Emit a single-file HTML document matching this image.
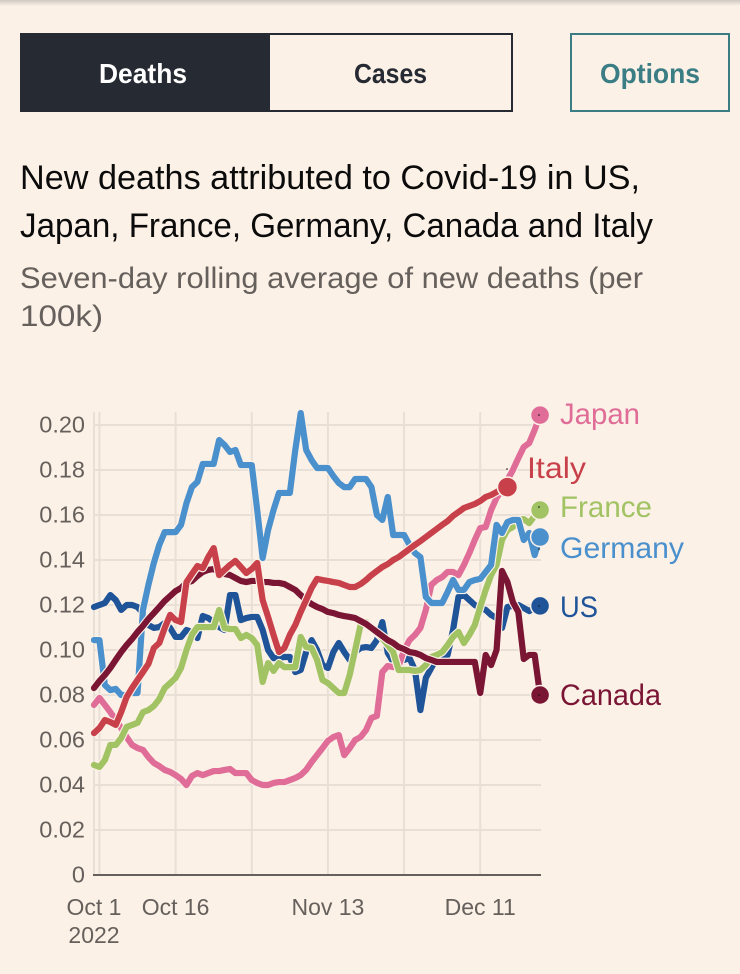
<!DOCTYPE html>
<html lang="en">
<head>
<meta charset="utf-8">
<title>New deaths attributed to Covid-19</title>
<style>
html,body{margin:0;padding:0;background:#fcf1e7;}
svg{display:block;font-family:"Liberation Sans",sans-serif;}
.btn{cursor:pointer;}
</style>
</head>
<body>
<svg id="page" xmlns="http://www.w3.org/2000/svg" width="740" height="974" viewBox="0 0 740 974">
  <defs>
    <linearGradient id="topShadow" x1="0" y1="0" x2="0" y2="1">
      <stop offset="0" stop-color="#cfc8c2"/>
      <stop offset="1" stop-color="#fcf1e7"/>
    </linearGradient>
  </defs>
  <rect x="0" y="0" width="740" height="974" fill="#fcf1e7"/>
  <rect x="0" y="0" width="740" height="6" fill="url(#topShadow)"/>

  <g>
    <g class="btn">
      <rect x="20" y="33" width="249" height="79" fill="#262a33"/>
      <text x="143" y="83" text-anchor="middle" font-size="28" font-weight="700" fill="#ffffff" textLength="88" lengthAdjust="spacingAndGlyphs">Deaths</text>
    </g>
    <g class="btn">
      <rect x="269" y="34" width="243" height="77" fill="none" stroke="#262a33" stroke-width="2"/>
      <text x="390.500" y="83" text-anchor="middle" font-size="28" font-weight="700" fill="#262a33" textLength="73" lengthAdjust="spacingAndGlyphs">Cases</text>
    </g>
  </g>
  <g class="btn">
    <rect x="571" y="34" width="158" height="77" fill="none" stroke="#3b7d85" stroke-width="2"/>
    <text x="650" y="83" text-anchor="middle" font-size="28" font-weight="700" fill="#3b7d85" textLength="100" lengthAdjust="spacingAndGlyphs">Options</text>
  </g>

  <text x="20" y="189" font-size="34" fill="#0b0b0b" textLength="620" lengthAdjust="spacingAndGlyphs">New deaths attributed to Covid-19 in US,</text>
  <text x="20" y="237" font-size="34" fill="#0b0b0b" textLength="633" lengthAdjust="spacingAndGlyphs">Japan, France, Germany, Canada and Italy</text>
  <text x="20" y="288" font-size="30" fill="#66605c" textLength="623" lengthAdjust="spacingAndGlyphs">Seven-day rolling average of new deaths (per</text>
  <text x="20" y="326" font-size="30" fill="#66605c" textLength="83" lengthAdjust="spacingAndGlyphs">100k)</text>

  <g id="grid"></g>
  <g id="yticks"></g>
  <g id="xticks"></g>
  <line x1="93" y1="875" x2="541" y2="875" stroke="#66605c" stroke-width="2"/>
  <g id="series"></g>

  <g>
    <text x="560" y="424" font-size="30" fill="#df6d97" textLength="80" lengthAdjust="spacingAndGlyphs">Japan</text>
    <text x="527" y="478" font-size="30" fill="#c8414a" textLength="59" lengthAdjust="spacingAndGlyphs">Italy</text>
    <text x="560" y="517" font-size="30" fill="#a2c364" textLength="92" lengthAdjust="spacingAndGlyphs">France</text>
    <text x="560" y="558" font-size="30" fill="#4a90cc" textLength="124" lengthAdjust="spacingAndGlyphs">Germany</text>
    <text x="560" y="617" font-size="30" fill="#1f5499" textLength="38" lengthAdjust="spacingAndGlyphs">US</text>
    <text x="560" y="705" font-size="30" fill="#7a1534" textLength="101" lengthAdjust="spacingAndGlyphs">Canada</text>
  </g>
  <g fill="#111111">
    <circle cx="539" cy="415" r="0.8"/>
    <circle cx="507" cy="469" r="0.8"/>
    <circle cx="539" cy="507" r="0.8"/>
    <circle cx="539" cy="549" r="0.8"/>
    <circle cx="539" cy="606" r="0.8"/>
    <circle cx="539" cy="695" r="0.8"/>
  </g>
</svg>
<script>
var usValues = [.1191,.12,.1209,.1244,.1222,.1178,.12,.12,.1191,.1164,.1111,.1098,.1102,.112,.1098,.1058,.1058,.1089,.108,.1053,.1151,.1142,.1124,.1102,.1089,.1244,.1244,.1133,.1142,.1147,.1147,.1089,.1,.0964,.0964,.0969,.0969,.0902,.0911,.0991,.1044,.1,.0933,.092,.0991,.1031,.0991,.0956,.0991,.1009,.1013,.1009,.1044,.1124,.0987,.0947,.0947,.0956,.0964,.0911,.0733,.0876,.092,.0964,.0978,.0978,.1089,.1236,.1244,.1222,.12,.1187,.1178,.1156,.1142,.1098,.1191,.1196,.12,.1187,.1173,.1187,.1196];
var japanValues = [.0756,.0787,.0756,.0724,.0689,.0653,.0613,.0578,.0564,.0556,.0524,.0498,.0484,.0467,.0458,.0444,.0427,.04,.044,.0453,.0444,.0453,.0462,.0462,.0467,.0471,.0453,.0453,.0453,.0422,.0409,.04,.04,.0409,.0413,.0413,.0422,.0431,.0444,.0467,.0502,.0533,.0564,.0596,.0613,.0622,.0533,.0564,.06,.0613,.0644,.0698,.0707,.0902,.0929,.0924,.0929,.1,.1044,.1067,.1098,.1178,.1289,.1311,.1324,.1347,.1347,.1333,.1378,.1431,.1489,.1542,.1547,.1622,.1676,.1711,.1756,.18,.1853,.1902,.192,.1978,.2044];
var franceValues = [.0489,.048,.0511,.0578,.0578,.0609,.0658,.0667,.0676,.0724,.0733,.0751,.0782,.0831,.0853,.0876,.092,.1,.1067,.1102,.1102,.1102,.1102,.1178,.1098,.1093,.1093,.1053,.1067,.1053,.1022,.0858,.0942,.0907,.0942,.0924,.0924,.0924,.1058,.1013,.1009,.0956,.0867,.0853,.0831,.0809,.0809,.0889,.1,.1111,.1124,.1098,.1076,.1053,.1022,.0991,.0911,.0911,.0911,.0907,.0911,.0933,.0969,.0978,.0991,.1022,.1058,.108,.1031,.1067,.1111,.1191,.1267,.1333,.1378,.1489,.1533,.1547,.1578,.1582,.1564,.1596,.1622];
var germanyValues = [.1044,.1044,.0844,.0822,.0827,.08,.08,.0809,.0809,.1178,.1289,.1387,.1467,.1524,.1524,.1524,.1556,.1653,.1724,.1747,.1827,.1827,.1827,.1933,.1911,.188,.1889,.1822,.1822,.1822,.1622,.1409,.1533,.1622,.1698,.1698,.1698,.1889,.2053,.1889,.1844,.1809,.1809,.1809,.1773,.1742,.1724,.1724,.176,.176,.176,.1724,.16,.1578,.168,.1511,.1511,.1511,.1467,.1431,.1413,.1236,.1209,.1209,.1209,.1258,.1311,.1267,.1267,.1302,.1311,.1316,.1347,.1378,.1556,.152,.1569,.1578,.1578,.1489,.152,.1422,.1502];
var canadaValues = [.0831,.0862,.0889,.092,.0956,.0991,.1022,.1049,.108,.1107,.1138,.1164,.1191,.1218,.124,.1262,.1276,.1298,.1307,.1329,.1347,.1356,.136,.1347,.1338,.1333,.132,.1307,.1302,.1307,.1307,.1302,.1302,.1298,.1298,.1293,.128,.1267,.1244,.1222,.1204,.1191,.1182,.1169,.1164,.1156,.1151,.1147,.1142,.1129,.1116,.1098,.108,.1062,.1044,.1031,.1013,.1004,.0991,.0987,.0978,.0964,.0956,.0947,.0947,.0947,.0947,.0947,.0947,.0947,.0947,.0809,.0978,.0933,.1,.1351,.1302,.1213,.1169,.096,.0978,.0978,.08];
var italyValues = [.0631,.0653,.0689,.068,.0667,.0724,.0791,.0831,.0867,.0902,.0938,.1009,.1031,.1098,.1156,.1133,.1124,.1302,.1338,.1373,.1364,.1413,.1453,.1333,.1356,.1378,.1396,.1369,.1342,.136,.1387,.1222,.1147,.1067,.0991,.1009,.1067,.1111,.1169,.1222,.1276,.1316,.1311,.1307,.1302,.1298,.1289,.128,.128,.1293,.1311,.1333,.1351,.1369,.1382,.14,.1413,.1431,.1449,.1467,.1484,.1502,.152,.1538,.1556,.1573,.1596,.1613,.1631,.164,.1649,.1662,.168,.1689,.1702,.1716,.1724];

var yTickValues = [0, 0.02, 0.04, 0.06, 0.08, 0.10, 0.12, 0.14, 0.16, 0.18, 0.20];
var yTickLabels = ["0", "0.02", "0.04", "0.06", "0.08", "0.10", "0.12", "0.14", "0.16", "0.18", "0.20"];
var xGridDays = [0, 1, 15, 29, 43, 57, 71];
var xLabelDays = [0, 15, 43, 71];
var xLabels = ["Oct 1", "Oct 16", "Nov 13", "Dec 11"];

var NS = "http://www.w3.org/2000/svg";
function xScale(day) { return 94 + day * 5.44; }
function yScale(value) { return 875 - value * 2250; }
function make(tag, parent) {
  var el = document.createElementNS(NS, tag);
  parent.appendChild(el);
  return el;
}

var grid = document.getElementById("grid");
yTickValues.forEach(function (v, k) {
  if (v === 0) return;
  var gl = make("line", grid);
  
  
  gl.setAttribute("x1", 94);
  gl.setAttribute("x2", 541);
  gl.setAttribute("y1", yScale(v));
  gl.setAttribute("y2", yScale(v));
  gl.setAttribute("stroke", "#e8dfd6");
  gl.setAttribute("stroke-width", 2);
});
xGridDays.forEach(function (d) {
  var gl = make("line", grid);
  
  
  gl.setAttribute("x1", xScale(d));
  gl.setAttribute("x2", xScale(d));
  gl.setAttribute("y1", 412);
  gl.setAttribute("y2", 875);
  gl.setAttribute("stroke", "#e8dfd6");
  gl.setAttribute("stroke-width", 2);
});

var yticks = document.getElementById("yticks");
yTickValues.forEach(function (v, k) {
  var t = make("text", yticks);
  
  
  t.setAttribute("x", 85);
  t.setAttribute("y", yScale(v) + 7.5);
  t.setAttribute("text-anchor", "end");
  t.setAttribute("font-size", 23.5);
  t.setAttribute("fill", "#66605c");
  t.textContent = yTickLabels[k];
});

var xticks = document.getElementById("xticks");
xLabelDays.forEach(function (d, k) {
  var t = make("text", xticks);
  
  
  t.setAttribute("x", xScale(d));
  t.setAttribute("y", 915);
  t.setAttribute("text-anchor", "middle");
  t.setAttribute("font-size", 23);
  t.setAttribute("fill", "#66605c");
  t.textContent = xLabels[k];
});
var yearLabel = make("text", xticks);


yearLabel.setAttribute("x", xScale(0));
yearLabel.setAttribute("y", 943);
yearLabel.setAttribute("text-anchor", "middle");
yearLabel.setAttribute("font-size", 23);
yearLabel.setAttribute("fill", "#66605c");
yearLabel.textContent = "2022";

var seriesRoot = document.getElementById("series");
var BG = "#fcf1e7";
function drawSeries(name, values, color, radius) {
  var g = make("g", seriesRoot);
  
  
  var d = values.map(function (v, i) {
    return (i ? "L" : "M") + xScale(i).toFixed(2) + " " + yScale(v).toFixed(2);
  }).join("");
  var halo = make("path", g);
  
  
  halo.setAttribute("d", d);
  halo.setAttribute("fill", "none");
  halo.setAttribute("stroke", BG);
  halo.setAttribute("stroke-width", 8.5);
  halo.setAttribute("stroke-linejoin", "round");
  var line = make("path", g);
  
  
  line.setAttribute("data-series", name);
  line.setAttribute("d", d);
  line.setAttribute("fill", "none");
  line.setAttribute("stroke", color);
  line.setAttribute("stroke-width", 6.2);
  line.setAttribute("stroke-linejoin", "round");
  line.setAttribute("stroke-linecap", "round");
  var last = values.length - 1;
  var dot = make("circle", g);
  
  
  dot.setAttribute("data-series", name);
  dot.setAttribute("cx", xScale(last));
  dot.setAttribute("cy", yScale(values[last]));
  dot.setAttribute("r", radius);
  dot.setAttribute("fill", color);
  dot.setAttribute("stroke", BG);
  dot.setAttribute("stroke-width", 1.5);
}
drawSeries("US", usValues, "#1f5499", 9.5);
drawSeries("Japan", japanValues, "#df6d97", 9.5);
drawSeries("France", franceValues, "#a2c364", 9.5);
drawSeries("Germany", germanyValues, "#4a90cc", 9.5);
drawSeries("Canada", canadaValues, "#7a1534", 9.5);
drawSeries("Italy", italyValues, "#c8414a", 10);
</script>
</body>
</html>
